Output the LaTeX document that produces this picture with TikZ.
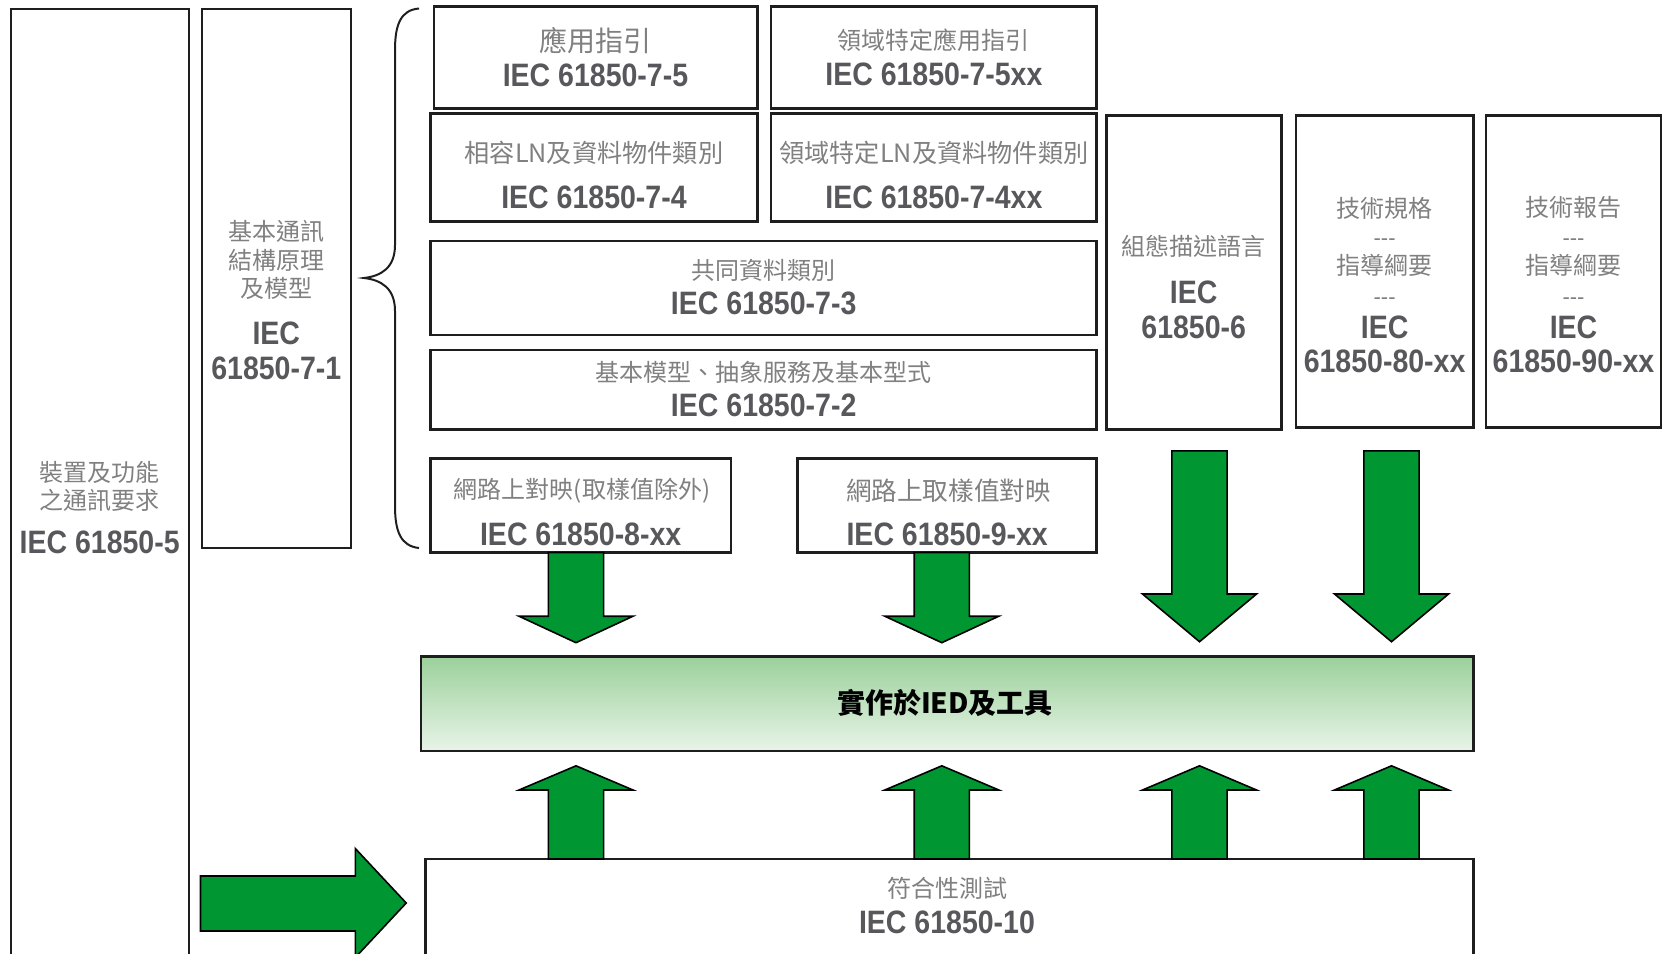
\documentclass[tikz,border=0pt]{standalone}
\usepackage{fontspec}
\setmainfont{Liberation Sans}
\newfontfamily\cjk{Noto Sans CJK TC}
\newfontfamily\iecfont{Liberation Sans Bold}[FakeStretch=0.88]
\usetikzlibrary{fit}
\definecolor{iecgray}{RGB}{88,88,92}
\definecolor{cjkgray}{RGB}{128,128,128}
\definecolor{arrowgreen}{RGB}{0,150,50}
\definecolor{boxline}{RGB}{30,30,30}
\definecolor{iedtop}{RGB}{155,208,155}
\definecolor{iedbot}{RGB}{232,244,232}
\tikzset{
  box/.style={draw=boxline, line width=1.3pt, inner sep=0pt, fill=white},
  thinbox/.style={draw=boxline, line width=1pt, inner sep=0pt},
  cjkt/.style={text=cjkgray, font=\cjk\fontsize{12}{14}\selectfont, inner sep=0pt},
  cjkbig/.style={text=cjkgray, font=\cjk\fontsize{14}{16}\selectfont, inner sep=0pt},
  cjkmid/.style={text=cjkgray, font=\cjk\fontsize{12.6}{15}\selectfont, inner sep=0pt},
  cjkmidb/.style={text=cjkgray, font=\cjk\fontsize{12.8}{15}\selectfont, inner sep=0pt},
  iec/.style={text=iecgray, font=\iecfont\fontsize{16.2}{19}\selectfont, inner sep=0pt},
  dashtxt/.style={text=cjkgray, font=\fontsize{11}{13}\selectfont, inner sep=0pt},
  garrow/.style={fill=arrowgreen, draw=black, line width=0.8pt, line join=miter},
  bracestyle/.style={draw=boxline, line width=1pt},
}
\newcommand{\garrowV}[4]{%
  \draw[garrow] (#1-27.6,#2) -- (#1+27.6,#2) -- (#1+27.6,#3) -- (#1+57,#3)
    -- (#1,#4) -- (#1-57,#3) -- (#1-27.6,#3) -- cycle;}
\begin{document}
\begin{tikzpicture}[x=0.5pt,y=-0.5pt]
\useasboundingbox (0,0) rectangle (1663,953);
\clip (0,0) rectangle (1663,953);

% boxes
\node[thinbox, fit={(10.6,8.5)(188.8,990)}] (b5) {};
\node[thinbox, fit={(201.5,8.5)(351,548)}] (b71) {};
\node[box, fit={(433.8,6.4)(757.3,108.2)}] (b75) {};
\node[box, fit={(771,6.4)(1096.7,108.2)}] (b75xx) {};
\node[box, fit={(430.6,113.5)(757.3,221.7)}] (b74) {};
\node[box, fit={(771,113.5)(1096.7,221.7)}] (b74xx) {};
\node[box, fit={(430.6,240.8)(1096.7,335.1)}] (b73) {};
\node[box, fit={(430.6,350)(1096.7,429.5)}] (b72) {};
\node[box, fit={(430.6,458.2)(730.8,552.6)}] (b8) {};
\node[box, fit={(797.6,458.2)(1096.7,552.6)}] (b9) {};
\node[box, fit={(1106.2,115.6)(1281.2,429.5)}] (b6) {};
\node[box, fit={(1296,115.6)(1473.2,427.4)}] (b80) {};
\node[box, fit={(1486,115.6)(1661,427.4)}] (b90) {};
\node[box, top color=iedtop, bottom color=iedbot, fit={(421,656.5)(1473.2,751)}] (ied) {};
\node[box, fit={(425.3,859)(1473.2,990)}] (b10) {};

% brace
\draw[bracestyle] (419,8.5) .. controls (401,10) and (395,24) .. (395,50)
  -- (395,245) .. controls (395,268) and (381,276) .. (364,278)
  .. controls (381,280) and (395,288) .. (395,311)
  -- (395,506) .. controls (395,532) and (401,546) .. (419,548);

% texts
\node[cjkt] (t5a) at (99.7,472) {裝置及功能};
\node[cjkt] (t5b) at (99.7,500.6) {之通訊要求};
\node[iec]  (t5c) at (99.7,542) {IEC 61850-5};

\node[cjkt] (t71a) at (276.3,231) {基本通訊};
\node[cjkt] (t71b) at (276.3,260) {結構原理};
\node[cjkt] (t71c) at (276.3,288.5) {及模型};
\node[iec]  (t71d) at (276.3,333) {IEC};
\node[iec]  (t71e) at (276.3,368) {61850-7-1};

\node[cjkbig] (t75a) at (595.5,40.3) {應用指引};
\node[iec]    (t75b) at (595.5,75.3) {IEC 61850-7-5};
\node[cjkt]   (t75xa) at (933.9,40.3) {領域特定應用指引};
\node[iec]    (t75xb) at (933.9,74) {IEC 61850-7-5xx};

\node[cjkmid] (t74a) at (594,152.7) {相容LN及資料物件類別};
\node[iec]    (t74b) at (594,197.3) {IEC 61850-7-4};
\node[cjkmid] (t74xa) at (933.9,152.7) {領域特定LN及資料物件類別};
\node[iec]    (t74xb) at (933.9,197.3) {IEC 61850-7-4xx};

\node[cjkt] (t73a) at (763.7,270.5) {共同資料類別};
\node[iec]  (t73b) at (763.7,303.3) {IEC 61850-7-3};
\node[cjkt] (t72a) at (763.7,372.3) {基本模型、抽象服務及基本型式};
\node[iec]  (t72b) at (763.7,405) {IEC 61850-7-2};

\node[cjkt]    (t8a) at (582,491) {網路上對映(取樣值除外)};
\node[iec]     (t8b) at (580.7,534.5) {IEC 61850-8-xx};
\node[cjkmidb] (t9a) at (948.5,491) {網路上取樣值對映};
\node[iec]     (t9b) at (947.2,534.5) {IEC 61850-9-xx};

\node[cjkt] (t6a) at (1193.7,246) {組態描述語言};
\node[iec]  (t6b) at (1193.7,292.7) {IEC};
\node[iec]  (t6c) at (1193.7,327.7) {61850-6};

\node[cjkt]    (t80a) at (1384.6,207.9) {技術規格};
\node[dashtxt] (t80b) at (1384.6,242) {{-}{-}{-}};
\node[cjkt]    (t80c) at (1384.6,265.2) {指導綱要};
\node[dashtxt] (t80d) at (1384.6,301) {{-}{-}{-}};
\node[iec]     (t80e) at (1384.6,327.7) {IEC};
\node[iec]     (t80f) at (1384.6,361.7) {61850-80-xx};

\node[cjkt]    (t90a) at (1573.5,207.9) {技術報告};
\node[dashtxt] (t90b) at (1573.5,242) {{-}{-}{-}};
\node[cjkt]    (t90c) at (1573.5,265.2) {指導綱要};
\node[dashtxt] (t90d) at (1573.5,301) {{-}{-}{-}};
\node[iec]     (t90e) at (1573.5,327.7) {IEC};
\node[iec]     (t90f) at (1573.5,361.7) {61850-90-xx};

\node[font=\cjk\bfseries\fontsize{14}{16}\selectfont, text=black, inner sep=0pt] (tied) at (945,703) {實作於IED及工具};

\node[cjkt] (t10a) at (947,888.8) {符合性測試};
\node[iec]  (t10b) at (947,922.7) {IEC 61850-10};

% down arrows
\garrowV{576}{552.6}{616.2}{642.7}
\garrowV{941.8}{552.6}{616.2}{642.7}
\garrowV{1199.5}{450.8}{594}{641.7}
\garrowV{1391.5}{450.8}{594}{641.7}
% up arrows
\garrowV{576}{859}{790}{765.8}
\garrowV{941.8}{859}{790}{765.8}
\garrowV{1199.5}{859}{790}{765.8}
\garrowV{1391.5}{859}{790}{765.8}
% right arrow
\draw[garrow] (200.5,876) -- (355.3,876) -- (355.3,848.5) -- (406.2,903)
  -- (355.3,957.5) -- (355.3,931) -- (200.5,931) -- cycle;
\end{tikzpicture}
\end{document}
